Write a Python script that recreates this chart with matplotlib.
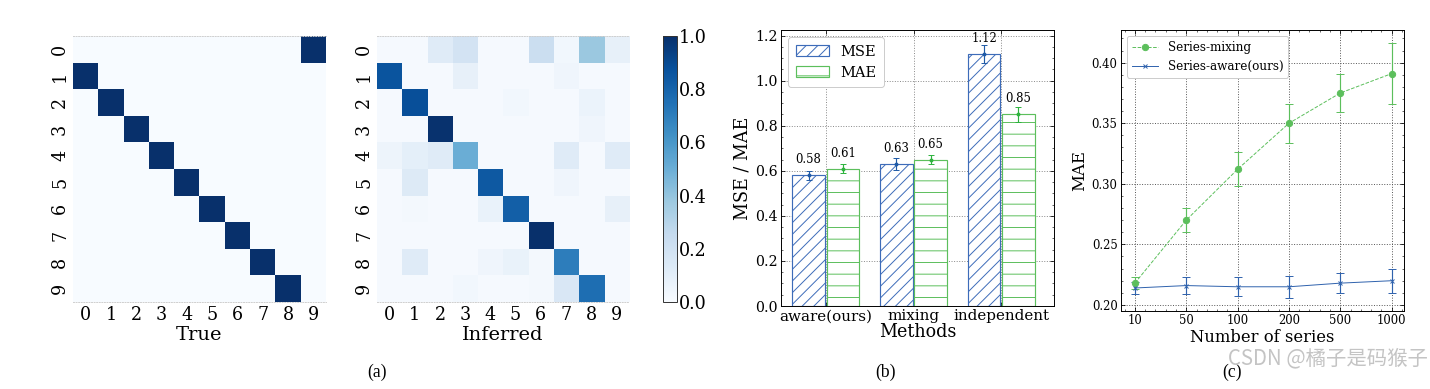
import numpy as np
import matplotlib.pyplot as plt
from matplotlib.lines import Line2D
from matplotlib.ticker import AutoMinorLocator

# ---- data ----
labels = [str(i) for i in range(10)]
true_cols = [9, 0, 1, 2, 3, 4, 5, 6, 7, 8]  # column holding the 1 in each row
inferred = [
    [0.01, 0.01, 0.12, 0.18, 0.01, 0.01, 0.22, 0.03, 0.38, 0.08],
    [0.86, 0.01, 0.01, 0.08, 0.01, 0.01, 0.01, 0.04, 0.01, 0.01],
    [0.01, 0.88, 0.01, 0.01, 0.01, 0.03, 0.01, 0.01, 0.06, 0.01],
    [0.01, 0.01, 0.99, 0.01, 0.01, 0.01, 0.01, 0.01, 0.04, 0.01],
    [0.05, 0.09, 0.12, 0.50, 0.01, 0.01, 0.01, 0.12, 0.01, 0.12],
    [0.01, 0.13, 0.01, 0.01, 0.84, 0.01, 0.01, 0.04, 0.01, 0.01],
    [0.01, 0.02, 0.01, 0.01, 0.07, 0.82, 0.01, 0.01, 0.01, 0.08],
    [0.01, 0.01, 0.01, 0.01, 0.01, 0.01, 1.00, 0.01, 0.01, 0.01],
    [0.01, 0.12, 0.01, 0.01, 0.04, 0.07, 0.02, 0.70, 0.01, 0.01],
    [0.01, 0.01, 0.01, 0.03, 0.01, 0.01, 0.02, 0.15, 0.76, 0.01],
]

methods = ["aware(ours)", "mixing", "independent"]
mse = [0.58, 0.63, 1.12]
mse_err = [0.02, 0.025, 0.04]
mae = [0.61, 0.65, 0.85]
mae_err = [0.02, 0.02, 0.035]

n_series = ["10", "50", "100", "200", "500", "1000"]
mixing = [0.218, 0.270, 0.312, 0.350, 0.375, 0.391]
mixing_err = [0.005, 0.010, 0.014, 0.016, 0.016, 0.025]
aware = [0.214, 0.216, 0.215, 0.215, 0.218, 0.220]
aware_err = [0.005, 0.007, 0.008, 0.009, 0.008, 0.010]

# ---- style ----
plt.rcParams["font.family"] = ["DejaVu Serif"]
plt.rcParams["hatch.linewidth"] = 1.0
W, H = 1430, 389
DPI = 70
fig = plt.figure(figsize=(W / DPI, H / DPI), dpi=DPI)


def box(l, t, r, b):
    return [l / W, 1 - b / H, (r - l) / W, (b - t) / H]


def science_ticks(ax):
    ax.tick_params(which="both", direction="in", top=True, right=True)
    ax.tick_params(which="major", length=4, width=0.8)
    ax.tick_params(which="minor", length=2, width=0.6)
    for s in ax.spines.values():
        s.set_linewidth(1.0)


# ---- heatmaps ----
true_mat = np.zeros((10, 10))
true_mat[np.arange(10), true_cols] = 1.0

for mat, name, (l, r) in [(true_mat, "True", (73, 326)),
                          (np.array(inferred), "Inferred", (377, 629))]:
    ax = fig.add_axes(box(l, 36, r, 302))
    im = ax.imshow(mat, cmap="Blues", vmin=0, vmax=1, aspect="auto",
                   interpolation="nearest")
    ax.set_xticks(range(10))
    ax.set_yticks(range(10))
    ax.set_xticklabels(labels, fontsize=18)
    ax.set_yticklabels(labels, fontsize=18, rotation=90, va="center")
    ax.tick_params(length=0, pad=4)
    ax.set_xlabel(name, fontsize=20, labelpad=2)
    for side in ["left", "right"]:
        ax.spines[side].set_visible(False)
    for side in ["top", "bottom"]:
        ax.spines[side].set_linestyle(":")
        ax.spines[side].set_color("#cfcfcf")
        ax.spines[side].set_linewidth(1.0)

cax = fig.add_axes(box(663, 36, 677, 302))
cb = fig.colorbar(im, cax=cax, ticks=[0, 0.2, 0.4, 0.6, 0.8, 1.0])
cb.ax.tick_params(length=0, pad=2, labelsize=18)
cb.outline.set_edgecolor("#333333")
cb.outline.set_linewidth(1.0)

# ---- bar chart ----
blue = "#3d6cb9"
blue_dark = "#1f5aa6"
green = "#5cbf5c"
green_dark = "#2db33d"

ax = fig.add_axes(box(781, 30, 1054, 306))
x = np.arange(len(methods))
w = 0.37
x_mse = x - w / 2 - 0.01
x_mae = x + w / 2 + 0.01
ax.bar(x_mse, mse, w, facecolor="white", edgecolor=blue,
       hatch="//", linewidth=1.2, label="MSE", zorder=2)
ax.bar(x_mae, mae, w, facecolor="white", edgecolor=green,
       hatch="-", linewidth=1.2, label="MAE", zorder=2)
ax.errorbar(x_mse, mse, yerr=mse_err, fmt="o", ms=3,
            color=blue_dark, capsize=3, elinewidth=1.2, zorder=3)
ax.errorbar(x_mae, mae, yerr=mae_err, fmt="o", ms=3,
            color=green_dark, capsize=3, elinewidth=1.2, zorder=3)
for xi, v in zip(x_mse, mse):
    ax.text(xi, v + 0.04, f"{v:.2f}", ha="center", va="bottom", fontsize=12)
for xi, v in zip(x_mae, mae):
    ax.text(xi, v + 0.04, f"{v:.2f}", ha="center", va="bottom", fontsize=12)
ax.set_xticks(x)
ax.set_xticklabels(methods, fontsize=15.5)
ax.set_xlim(-0.51, 2.6)
ax.set_ylim(0, 1.225)
ax.set_yticks(np.arange(0, 1.21, 0.2))
ax.tick_params(axis="y", labelsize=14.5)
ax.yaxis.set_minor_locator(AutoMinorLocator(4))
science_ticks(ax)
ax.tick_params(axis="x", which="minor", top=False, bottom=False)
ax.set_axisbelow(True)
ax.grid(True, linestyle=":", color="#888888", linewidth=1.0)
ax.set_xlabel("Methods", fontsize=18, labelpad=0)
ax.set_ylabel("MSE / MAE", fontsize=18, labelpad=4)
ax.legend(loc="upper left", fontsize=15, handlelength=2.3, handleheight=0.8,
          edgecolor="#cccccc", framealpha=1, borderpad=0.5)

# ---- line chart ----
line_green = "#5cbf5c"
line_blue = "#2f62ad"
ax = fig.add_axes(box(1121, 30, 1404, 311))
xs = np.arange(len(n_series))
ax.errorbar(xs, mixing, yerr=mixing_err, color=line_green, linestyle="--",
            marker="o", ms=6.5, capsize=4, linewidth=1.0, elinewidth=1.2,
            zorder=3)
ax.errorbar(xs, aware, yerr=aware_err, color=line_blue, linestyle="-",
            marker="x", ms=5, capsize=4, linewidth=1.0, elinewidth=1.2,
            zorder=3)
ax.set_xticks(xs)
ax.set_xticklabels(n_series, fontsize=12)
ax.set_xlim(-0.27, 5.24)
ax.set_ylim(0.195, 0.427)
ax.set_yticks([0.20, 0.25, 0.30, 0.35, 0.40])
ax.yaxis.set_major_formatter(plt.FormatStrFormatter("%.2f"))
ax.tick_params(axis="y", labelsize=12)
ax.xaxis.set_minor_locator(AutoMinorLocator(5))
ax.yaxis.set_minor_locator(AutoMinorLocator(5))
science_ticks(ax)
ax.set_axisbelow(True)
ax.grid(True, linestyle=":", color="#555555", linewidth=1.0)
ax.set_xlabel("Number of series", fontsize=16.8, labelpad=2)
ax.set_ylabel("MAE", fontsize=17, labelpad=4)
handles = [
    Line2D([], [], color=line_green, linestyle="--", marker="o", ms=6.5,
           linewidth=1.0),
    Line2D([], [], color=line_blue, linestyle="-", marker="x", ms=5,
           linewidth=1.0),
]
ax.legend(handles, ["Series-mixing", "Series-aware(ours)"], loc="upper left",
          fontsize=12.3, handlelength=2.2, edgecolor="#cccccc", framealpha=1)

# ---- captions ----
for cx, cap in [(377, "(a)"), (885, "(b)"), (1232, "(c)")]:
    fig.text(cx / W, 1 - 372 / H, cap, ha="center", va="center",
             fontsize=18, family="Liberation Serif")
fig.text(1428 / W, 1 - 358 / H, "CSDN @橘子是码猴子", ha="right", va="center",
         fontsize=21, color="#c4c4c4",
         family=["Noto Sans CJK SC", "DejaVu Sans"])

fig.savefig("out.png", dpi=DPI)
